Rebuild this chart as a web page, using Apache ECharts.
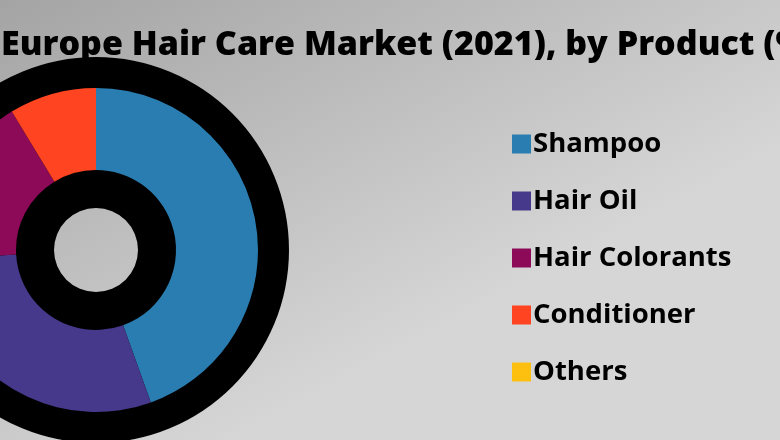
<!DOCTYPE html>
<html>
<head>
<meta charset="utf-8">
<script src="https://cdn.jsdelivr.net/npm/echarts@6/dist/echarts.min.js"></script>
<style>
  html, body { margin: 0; padding: 0; }
  #main { width: 780px; height: 440px; }
</style>
</head>
<body>
<div id="main"></div>
<script>
const titleText = 'Europe Hair Care Market (2021), by Product (%)'
const products = ['Shampoo', 'Hair Oil', 'Hair Colorants', 'Conditioner', 'Others']
const shares = [44.5, 29.6, 17.2, 8.7, 0]
const colors = ['#2a7db0', '#46388a', '#8c0a58', '#fe4420', '#fdc010']

const chart = echarts.init(document.getElementById('main'))

const pieData = products.map((name, i) => ({ name, value: shares[i] }))

chart.setOption({
  backgroundColor: {
    type: 'linear', x: 0, y: 0, x2: 0.3, y2: 1,
    colorStops: [
      { offset: 0, color: '#a4a4a4' },
      { offset: 1, color: '#d6d6d6' }
    ]
  },
  animation: false,
  title: {
    text: titleText,
    left: -4,
    top: 23,
    textStyle: {
      fontFamily: 'Open Sans',
      fontWeight: 800,
      fontSize: 34,
      color: '#000'
    }
  },
  legend: {
    orient: 'vertical',
    left: 507,
    top: 125,
    itemWidth: 19,
    itemHeight: 19,
    itemGap: 29,
    icon: 'rect',
    data: products,
    textStyle: {
      fontFamily: 'Open Sans',
      fontWeight: 'bold',
      fontSize: 27.5,
      color: '#000',
      padding: [0, 0, 0, -3]
    }
  },
  color: colors,
  series: [
    {
      // black rings behind the coloured donut
      type: 'pie',
      silent: true,
      z: 1,
      center: [96, 250],
      radius: [42, 193],
      startAngle: 90,
      label: { show: false },
      labelLine: { show: false },
      itemStyle: { color: '#000', borderWidth: 0 },
      data: [{ name: '', value: 1 }]
    },
    {
      type: 'pie',
      z: 2,
      center: [96, 250],
      radius: [80, 162],
      startAngle: 90,
      clockwise: true,
      label: { show: false },
      labelLine: { show: false },
      itemStyle: { borderWidth: 0 },
      data: pieData
    }
  ]
})
</script>
</body>
</html>
